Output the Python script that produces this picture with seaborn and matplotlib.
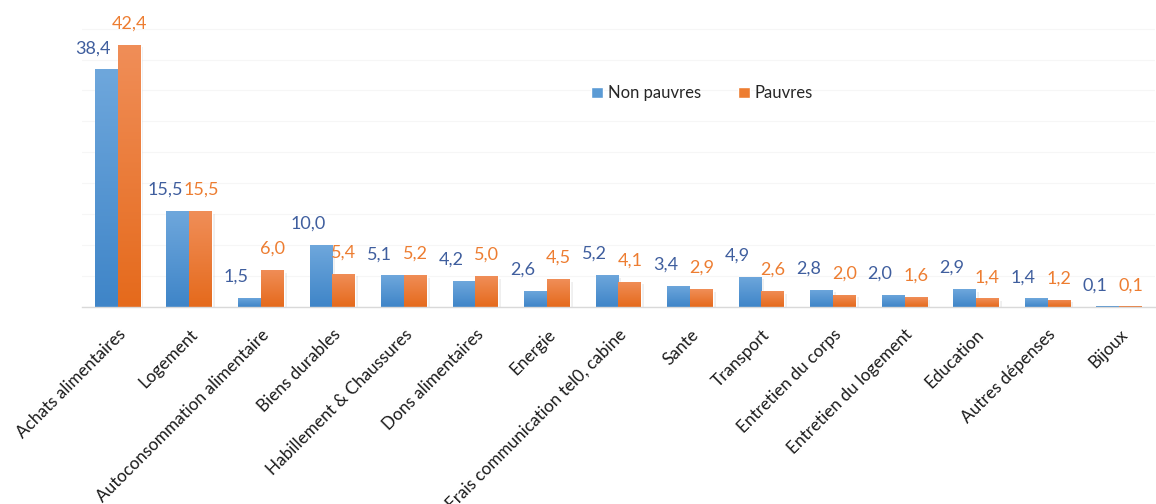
import matplotlib
matplotlib.use("Agg")
import matplotlib.pyplot as plt
import matplotlib.patheffects as pe
import seaborn as sns
import pandas as pd
import numpy as np

categories = ["Achats alimentaires", "Logement", "Autoconsommation alimentaire",
              "Biens durables", "Habillement & Chaussures", "Dons alimentaires",
              "Energie", "Frais communication tel0, cabine", "Sante", "Transport",
              "Entretien du corps", "Entretien du logement", "Education",
              "Autres dépenses", "Bijoux"]
non_pauvres = [38.4, 15.5, 1.5, 10.0, 5.1, 4.2, 2.6, 5.2, 3.4, 4.9, 2.8, 2.0, 2.9, 1.4, 0.1]
pauvres = [42.4, 15.5, 6.0, 5.4, 5.2, 5.0, 4.5, 4.1, 2.9, 2.6, 2.0, 1.6, 1.4, 1.2, 0.1]
series = ["Non pauvres", "Pauvres"]

sns.set_theme(style="white")
plt.rcParams['font.family'] = ['Lato', 'DejaVu Sans']

df = pd.DataFrame({
    "cat": categories * 2,
    "val": non_pauvres + pauvres,
    "serie": [series[0]] * len(categories) + [series[1]] * len(categories),
})

blue = "#5B9BD5"
orange = "#ED7D31"
label_colors = {"Non pauvres": "#3F5E9E", "Pauvres": "#ED7D31"}
YMAX = 48

fig = plt.figure(figsize=(11.56, 5.04), dpi=100)
ax = fig.add_axes([0.071, 0.391, 0.928, 0.589])

sns.barplot(data=df, x="cat", y="val", hue="serie", palette=[blue, orange],
            width=0.64, ax=ax, saturation=1, legend=True)

ax.set_xlabel("")
ax.set_ylabel("")
ax.set_yticks(np.arange(0, YMAX, 5))
ax.set_yticklabels([])
ax.tick_params(axis="y", length=0)
ax.grid(axis="y", color="#f6f6f6", linewidth=0.8)
ax.set_axisbelow(True)
for s in ["top", "right", "left"]:
    ax.spines[s].set_visible(False)
ax.spines["bottom"].set_color("#d9d9d9")
ax.spines["bottom"].set_linewidth(1.0)

# gradient overlay on bars + soft shadow
grad_cmaps = {
    0: matplotlib.colors.LinearSegmentedColormap.from_list("b", ["#3F85C8", "#6EA7DC"]),
    1: matplotlib.colors.LinearSegmentedColormap.from_list("o", ["#E56A1C", "#F08E58"]),
}
for ci, cont in enumerate(ax.containers):
    for p in cont.patches:
        x0, y0 = p.get_x(), p.get_y()
        w, h = p.get_width(), p.get_height()
        if h <= 0:
            continue
        p.set_path_effects([pe.SimplePatchShadow(offset=(2, -2), shadow_rgbFace="#999999",
                                                 alpha=0.15), pe.Normal()])
        g = np.linspace(0, 1, 100).reshape(-1, 1)
        im = ax.imshow(g, cmap=grad_cmaps[ci], aspect="auto", origin="lower",
                       extent=[x0, x0 + w, y0, y0 + h], zorder=p.get_zorder() + 0.1)
        im.set_clip_path(p)
ax.set_xlim(-0.5, len(categories) - 0.5)
ax.set_ylim(0, YMAX)

# value labels
for ci, cont in enumerate(ax.containers):
    name = series[ci]
    dx = -13 if ci == 0 else 0
    for p in cont.patches:
        v = p.get_height()
        ax.annotate(f"{v:.1f}".replace(".", ","),
                    (p.get_x() + p.get_width() / 2, v),
                    xytext=(dx, 13), textcoords="offset pixels",
                    ha="center", va="bottom", fontsize=13,
                    color=label_colors[name])

ax.set_xticks(range(len(categories)))
ax.set_xticklabels(categories, rotation=45, ha="right", rotation_mode="anchor",
                   fontsize=12.3, color="#1a1a1a")
ax.tick_params(axis="x", length=0, pad=14)

leg = ax.legend(loc="center", bbox_to_anchor=(0.578, 0.72), ncol=2, frameon=False,
                fontsize=12, handlelength=0.7, handleheight=0.7, columnspacing=2.2,
                handletextpad=0.3)

fig.savefig("out.png", dpi=100)
